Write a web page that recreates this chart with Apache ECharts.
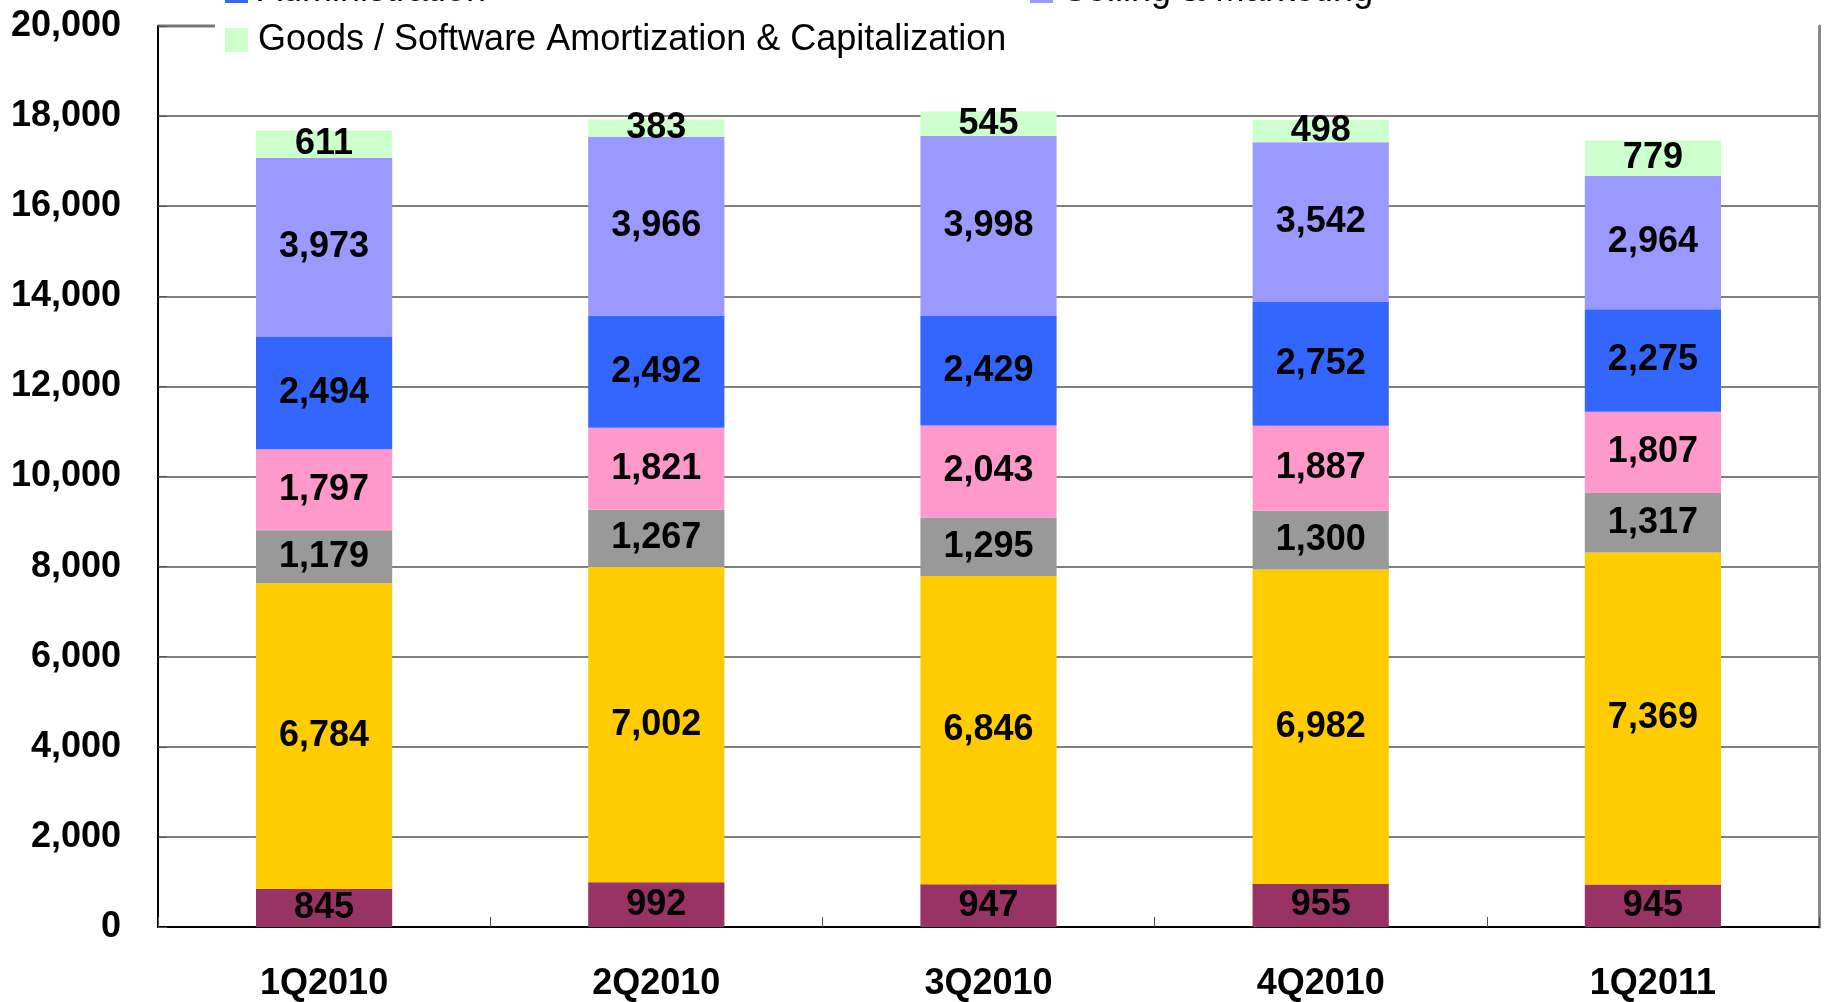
<!DOCTYPE html>
<html>
<head>
<meta charset="utf-8">
<script src="https://cdn.jsdelivr.net/npm/echarts@6.0.0/dist/echarts.min.js"></script>
<style>
  html, body { margin: 0; padding: 0; background: #fff; }
  #chart { width: 1825px; height: 1002px; }
</style>
</head>
<body>
<div id="chart"></div>
<script>
const quarters = ['1Q2010', '2Q2010', '3Q2010', '4Q2010', '1Q2011']

// stacked from the bottom up
const maroonVals = [845, 992, 947, 955, 945]
const yellowVals = [6784, 7002, 6846, 6982, 7369]
const grayVals = [1179, 1267, 1295, 1300, 1317]
const pinkVals = [1797, 1821, 2043, 1887, 1807]
const adminVals = [2494, 2492, 2429, 2752, 2275]
const sellingVals = [3973, 3966, 3998, 3542, 2964]
const goodsVals = [611, 383, 545, 498, 779]

const font = "'Liberation Sans', Arial, sans-serif"

const seriesDefs = [
  { name: 'Series 1', data: maroonVals, color: '#993366' },
  { name: 'Series 2', data: yellowVals, color: '#FFCC00' },
  { name: 'Series 3', data: grayVals, color: '#999999' },
  { name: 'Series 4', data: pinkVals, color: '#FF99CC' },
  { name: 'Administration', data: adminVals, color: '#3366FF' },
  { name: 'Selling & Marketing', data: sellingVals, color: '#9999FF' },
  { name: 'Goods / Software Amortization & Capitalization', data: goodsVals, color: '#CCFFCC' },
]

const chart = echarts.init(document.getElementById('chart'))

const legendBase = {
  orient: 'horizontal',
  padding: 0,
  icon: 'rect',
  itemWidth: 23,
  itemHeight: 24,
  itemGap: 10,
  selectedMode: false,
  textStyle: { fontFamily: font, fontSize: 36, color: '#000', padding: [0, 0, 0, 5] },
  z: 20,
}

const option = {
  animation: false,
  backgroundColor: '#fff',
  legend: [
    Object.assign({}, legendBase, { left: 225, top: -27, data: ['Administration'] }),
    Object.assign({}, legendBase, { left: 1030, top: -27, data: ['Selling & Marketing'] }),
    Object.assign({}, legendBase, { left: 225, top: 22, data: ['Goods / Software Amortization & Capitalization'] }),
  ],
  graphic: [
    { type: 'line', shape: { x1: 158, y1: 26, x2: 215, y2: 26 }, style: { stroke: '#777', lineWidth: 3 } },
  ],
  grid: { left: 158, right: 6, top: 26, bottom: 73, containLabel: false },
  xAxis: {
    type: 'category',
    data: quarters,
    axisLine: { lineStyle: { color: '#000', width: 2 } },
    axisTick: { show: true, inside: true, length: 10, lineStyle: { color: '#555', width: 1 } },
    axisLabel: { fontFamily: font, fontSize: 36, fontWeight: 'bold', color: '#000', margin: 39 },
  },
  yAxis: [
    {
      type: 'value',
      min: 0,
      max: 20000,
      interval: 2000,
      axisLine: { show: true, lineStyle: { color: '#000', width: 2 } },
      axisTick: { show: true, inside: true, length: 9, lineStyle: { color: '#555' } },
      splitLine: { show: true, showMaxLine: false, lineStyle: { color: '#555', width: 1.5 } },
      axisLabel: {
        fontFamily: font, fontSize: 36, fontWeight: 'bold', color: '#000', margin: 37,
        formatter: v => v.toLocaleString('en-US'),
      },
    },
    {
      type: 'value',
      position: 'right',
      min: 0,
      max: 20000,
      interval: 2000,
      axisLine: { show: true, lineStyle: { color: '#888', width: 3 } },
      axisTick: { show: false },
      axisLabel: { show: false },
      splitLine: { show: false },
    },
  ],
  series: seriesDefs.map(s => ({
    name: s.name,
    type: 'bar',
    stack: 'total',
    data: s.data,
    barWidth: '41%',
    itemStyle: { color: s.color },
    label: {
      show: true,
      position: 'inside',
      fontFamily: font,
      fontSize: 36,
      fontWeight: 'bold',
      color: '#000',
      formatter: p => p.value.toLocaleString('en-US'),
    },
  })),
}

chart.setOption(option)
</script>
</body>
</html>
